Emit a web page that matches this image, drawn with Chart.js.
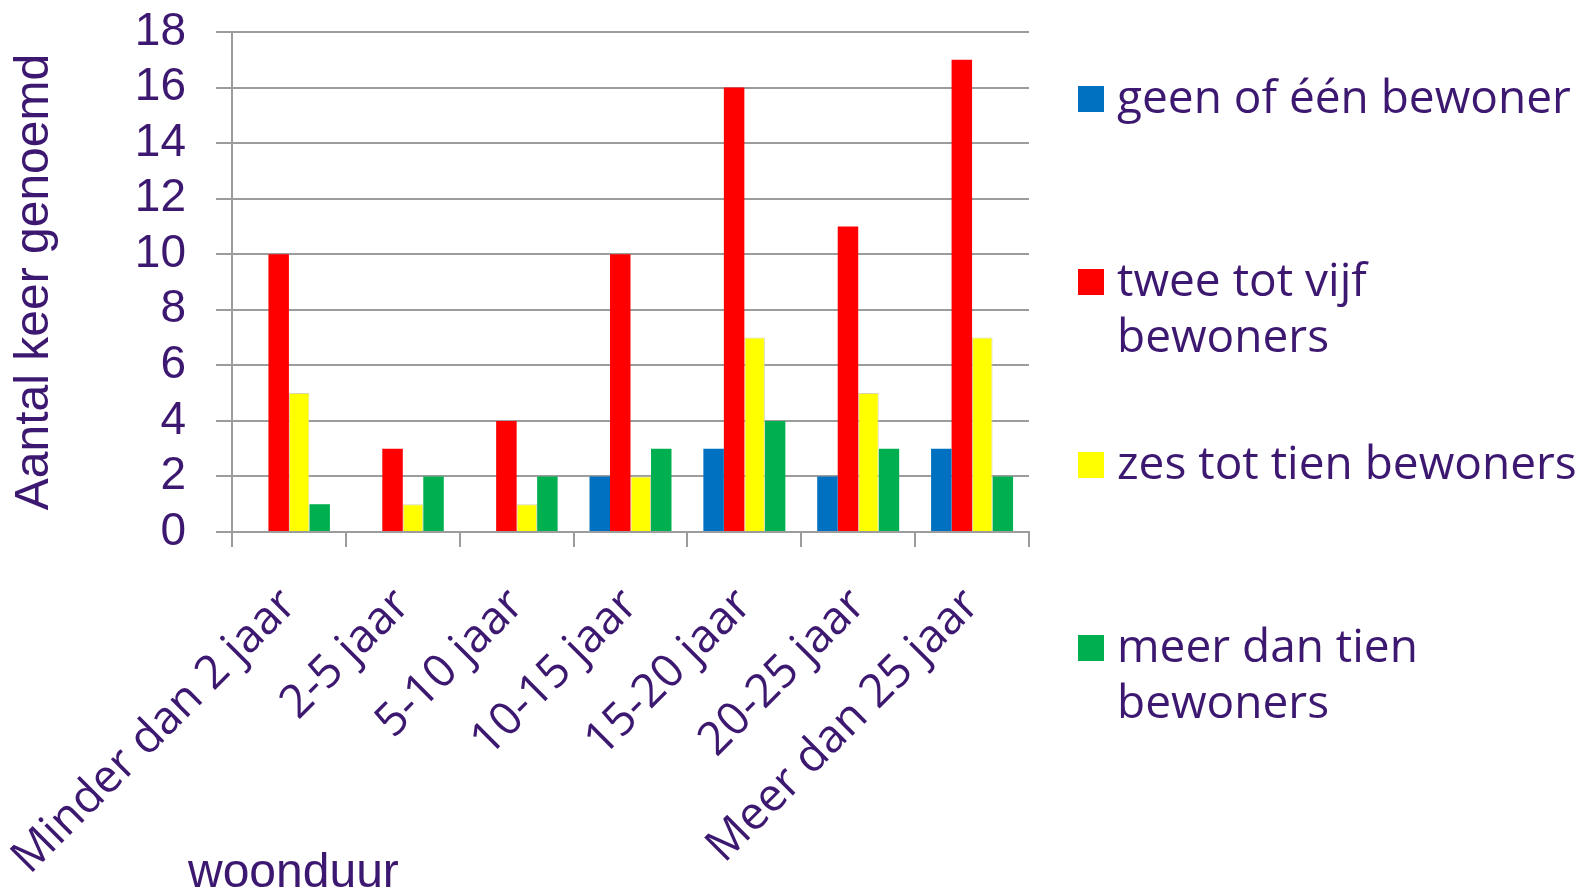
<!DOCTYPE html>
<html>
<head>
<meta charset="utf-8">
<script src="https://cdn.jsdelivr.net/npm/chart.js@4.4.1/dist/chart.umd.min.js"></script>
<style>
    html, body { margin: 0; padding: 0; background: #ffffff; }
    #wrap { width: 1591px; height: 891px; position: relative; }
</style>
</head>
<body>
<div id="wrap"><canvas id="chart"></canvas></div>
<script>
// Data
const categories = ['Minder dan 2 jaar', '2-5 jaar', '5-10 jaar', '10-15 jaar', '15-20 jaar', '20-25 jaar', 'Meer dan 25 jaar'];
const geenOfEen = [0, 0, 0, 2, 3, 2, 3];
const tweeTotVijf = [10, 3, 4, 10, 16, 11, 17];
const zesTotTien = [5, 1, 1, 2, 7, 5, 7];
const meerDanTien = [1, 2, 2, 3, 4, 3, 2];
const seriesLines = [
    ['geen of één bewoner'],
    ['twee tot vijf', 'bewoners'],
    ['zes tot tien bewoners'],
    ['meer dan tien', 'bewoners']
];
const yTicks = [0, 2, 4, 6, 8, 10, 12, 14, 16, 18];
const yTitle = 'Aantal keer genoemd';
const xTitle = 'woonduur';

const COLORS = ['#0070c0', '#ff0000', '#ffff00', '#00b050'];
const BORDERS = ['#0070c0', '#ff0000', '#d6d6a8', '#00b050'];
const TEXT = '#3d1870';
const GRID = '#9c9c9c';

// Legend on the right, wrapped like the original, plus the left-aligned x title
const sideText = {
    id: 'sideText',
    afterDraw(chart) {
        const ctx = chart.ctx;
        const area = chart.chartArea;
        ctx.save();
        ctx.fillStyle = TEXT;
        ctx.textBaseline = 'alphabetic';
        ctx.font = '48px "Liberation Sans"';
        ctx.fillText(xTitle, area.left - 44, 887);

        ctx.font = '46px "Open Sans"';
        const boxX = area.right + 49;
        const textX = area.right + 88;
        seriesLines.forEach(function (lines, i) {
            let cy = 99 + i * 183;
            ctx.fillStyle = COLORS[i];
            ctx.fillRect(boxX, cy - 13, 26, 26);
            ctx.fillStyle = TEXT;
            lines.forEach(function (line, j) {
                ctx.fillText(line, textX, cy + 14 + j * 56);
            });
        });
        ctx.restore();
    }
};

const seriesValues = [geenOfEen, tweeTotVijf, zesTotTien, meerDanTien];

new Chart(document.getElementById('chart'), {
    type: 'bar',
    data: {
        labels: categories,
        datasets: seriesValues.map(function (values, i) {
            return {
                label: seriesLines[i].join(' '),
                data: values,
                backgroundColor: COLORS[i],
                borderColor: BORDERS[i],
                borderWidth: i === 2 ? 1 : 0,
                categoryPercentage: 0.72,
                barPercentage: 1.0
            };
        })
    },
    options: {
        responsive: true,
        maintainAspectRatio: false,
        devicePixelRatio: 1,
        animation: false,
        layout: { padding: { top: 32, right: 562, bottom: 0, left: 0 } },
        plugins: {
            legend: { display: false },
            tooltip: { enabled: false }
        },
        scales: {
            x: {
                grid: { drawOnChartArea: false, color: GRID, lineWidth: 2, tickLength: 15, offset: true },
                border: { color: GRID, width: 2 },
                ticks: {
                    color: TEXT,
                    font: { family: 'Open Sans', size: 46 },
                    minRotation: 45,
                    maxRotation: 45,
                    autoSkip: false,
                    padding: 31
                },
                afterFit(scale) {
                    scale.height = 359;
                    scale.paddingLeft = 0;
                    scale.paddingRight = 0;
                }
            },
            y: {
                min: 0,
                max: 18,
                afterBuildTicks(scale) {
                    scale.ticks = yTicks.map(v => ({ value: v }));
                },
                grid: { color: GRID, lineWidth: 2, tickLength: 16 },
                border: { color: GRID, width: 2 },
                ticks: {
                    color: TEXT,
                    font: { family: 'Liberation Sans', size: 46 },
                    padding: 30,
                    autoSkip: false
                },
                title: {
                    display: true,
                    text: yTitle,
                    color: TEXT,
                    font: { family: 'Liberation Sans', size: 48 },
                    padding: { top: 6, bottom: 0 }
                },
                afterFit(scale) {
                    scale.width = 232;
                    scale.paddingTop = 0;
                    scale.paddingBottom = 0;
                }
            }
        }
    },
    plugins: [sideText]
});
</script>
</body>
</html>
